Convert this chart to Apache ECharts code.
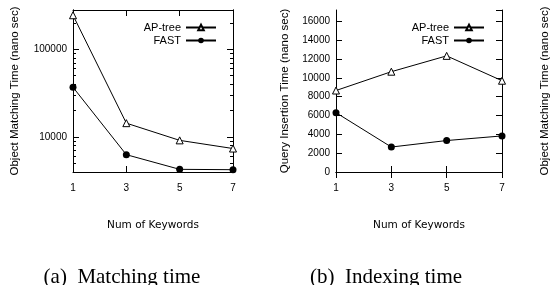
<!DOCTYPE html>
<html>
<head>
<meta charset="utf-8">
<script src="https://cdn.jsdelivr.net/npm/echarts@6/dist/echarts.min.js"></script>
<style>
  html, body { margin: 0; padding: 0; background: #fff; }
  #chart-box { width: 554px; height: 285px; }
</style>
</head>
<body>
<div id="chart-box"></div>
<script>
// data
const keywords = ['1', '3', '5', '7'];
const matchApTree = [244000, 14400, 9170, 7400];
const matchFast = [36900, 6300, 4290, 4250];
const insertApTree = [8650, 10650, 12330, 9690];
const insertFast = [6300, 2650, 3340, 3830];
const logMajorTicks = [10000, 100000];
const logMinorTicks = [5000, 6000, 7000, 8000, 9000, 20000, 30000, 40000, 50000, 60000, 70000, 80000, 90000, 200000];

const sans = 'Liberation Sans';
const black = '#000';

const lineStyle = { color: black, width: 1 };
const plainNumber = v => String(Math.round(v));

function xAxes(gridIndex) {
  // bottom axis with labels + mirrored top axis (gnuplot border)
  return [
    {
      type: 'category', gridIndex, data: keywords, boundaryGap: false, position: 'bottom',
      name: 'Num of Keywords', nameLocation: 'middle', nameGap: 48,
      nameTextStyle: { fontFamily: 'DejaVu Sans', fontSize: 10.5, color: black },
      axisLine: { lineStyle },
      axisTick: { inside: true, length: 6, lineStyle },
      axisLabel: { margin: 11, fontFamily: sans, fontSize: 10, color: black },
      splitLine: { show: false },
    },
    {
      type: 'category', gridIndex, data: keywords, boundaryGap: false, position: 'top',
      axisLine: { lineStyle },
      axisTick: { inside: true, length: 6, lineStyle },
      axisLabel: { show: false },
      splitLine: { show: false },
    },
  ];
}

function logAxis(position, ticks, len, withLabel, name) {
  return {
    type: 'log', gridIndex: 0, position, min: 4000, max: 280000, logBase: 10,
    name: name || '', nameLocation: 'middle', nameGap: 52,
    nameTextStyle: { fontFamily: sans, fontSize: 11.5, color: black },
    axisLine: { show: true, lineStyle },
    axisTick: { show: true, inside: true, length: len, lineStyle, customValues: ticks },
    axisLabel: withLabel
      ? { show: true, customValues: logMajorTicks, formatter: plainNumber, margin: 6, fontFamily: sans, fontSize: 10, color: black }
      : { show: false },
    splitLine: { show: false },
    minorTick: { show: false },
  };
}

function valueAxis(position, withLabel) {
  return {
    type: 'value', gridIndex: 1, position, min: 0, max: 17200, interval: 2000,
    name: withLabel ? 'Query Insertion Time (nano sec)' : '', nameLocation: 'middle', nameGap: 45,
    nameTextStyle: { fontFamily: sans, fontSize: 11.5, color: black },
    axisLine: { show: true, lineStyle },
    axisTick: { show: true, inside: true, length: 6, lineStyle },
    axisLabel: withLabel
      ? { show: true, showMaxLabel: false, formatter: plainNumber, margin: 6, fontFamily: sans, fontSize: 10, color: black }
      : { show: false },
    splitLine: { show: false },
  };
}

function legend(right) {
  return {
    orient: 'vertical', align: 'right', right, top: 17,
    itemWidth: 30, itemHeight: 7, itemGap: 2,
    selectedMode: false,
    textStyle: { fontFamily: sans, fontSize: 11, color: black },
    data: ['AP-tree', 'FAST'],
  };
}

function apSeries(xi, yi, data) {
  return {
    name: 'AP-tree', type: 'line', xAxisIndex: xi, yAxisIndex: yi, data,
    symbol: 'triangle', symbolSize: 7, showAllSymbol: true,
    lineStyle, itemStyle: { color: '#fff', borderColor: black, borderWidth: 1 },
    emphasis: { disabled: true }, animation: false,
  };
}

function fastSeries(xi, yi, data) {
  return {
    name: 'FAST', type: 'line', xAxisIndex: xi, yAxisIndex: yi, data,
    symbol: 'circle', symbolSize: 7, showAllSymbol: true,
    lineStyle, itemStyle: { color: black },
    emphasis: { disabled: true }, animation: false,
  };
}

const myChart = echarts.init(document.querySelector('#chart-box'), null, { renderer: 'canvas' });

const option = {
  animation: false,
  backgroundColor: '#fff',
  grid: [
    { left: 73, top: 10, width: 160, height: 162 },
    { left: 336, top: 10, width: 166, height: 162 },
  ],
  xAxis: [...xAxes(0), ...xAxes(1)],
  yAxis: [
    logAxis('left', logMajorTicks, 6, true, 'Object Matching Time (nano sec)'),
    logAxis('right', logMajorTicks, 6, false),
    logAxis('left', logMinorTicks, 3, false),
    logAxis('right', logMinorTicks, 3, false),
    valueAxis('left', true),
    valueAxis('right', false),
  ],
  legend: [legend(332), legend(64)],
  title: [
    { text: '(a)\u2002Matching time', left: 117, top: 262, textAlign: 'center',
      textStyle: { fontFamily: 'Liberation Serif', fontSize: 21, fontWeight: 'normal', color: black } },
    { text: '(b)\u2002Indexing time', left: 381, top: 262, textAlign: 'center',
      textStyle: { fontFamily: 'Liberation Serif', fontSize: 21, fontWeight: 'normal', color: black } },
  ],
  graphic: [
    { type: 'text', x: 545, y: 91, rotation: Math.PI / 2,
      style: { text: 'Object Matching Time (nano sec)', fontFamily: sans, fontSize: 11.5,
        fill: black, textAlign: 'center', textVerticalAlign: 'middle' } },
  ],
  series: [
    apSeries(0, 0, matchApTree),
    fastSeries(0, 0, matchFast),
    apSeries(2, 4, insertApTree),
    fastSeries(2, 4, insertFast),
  ],
};
myChart.setOption(option);
</script>
</body>
</html>
